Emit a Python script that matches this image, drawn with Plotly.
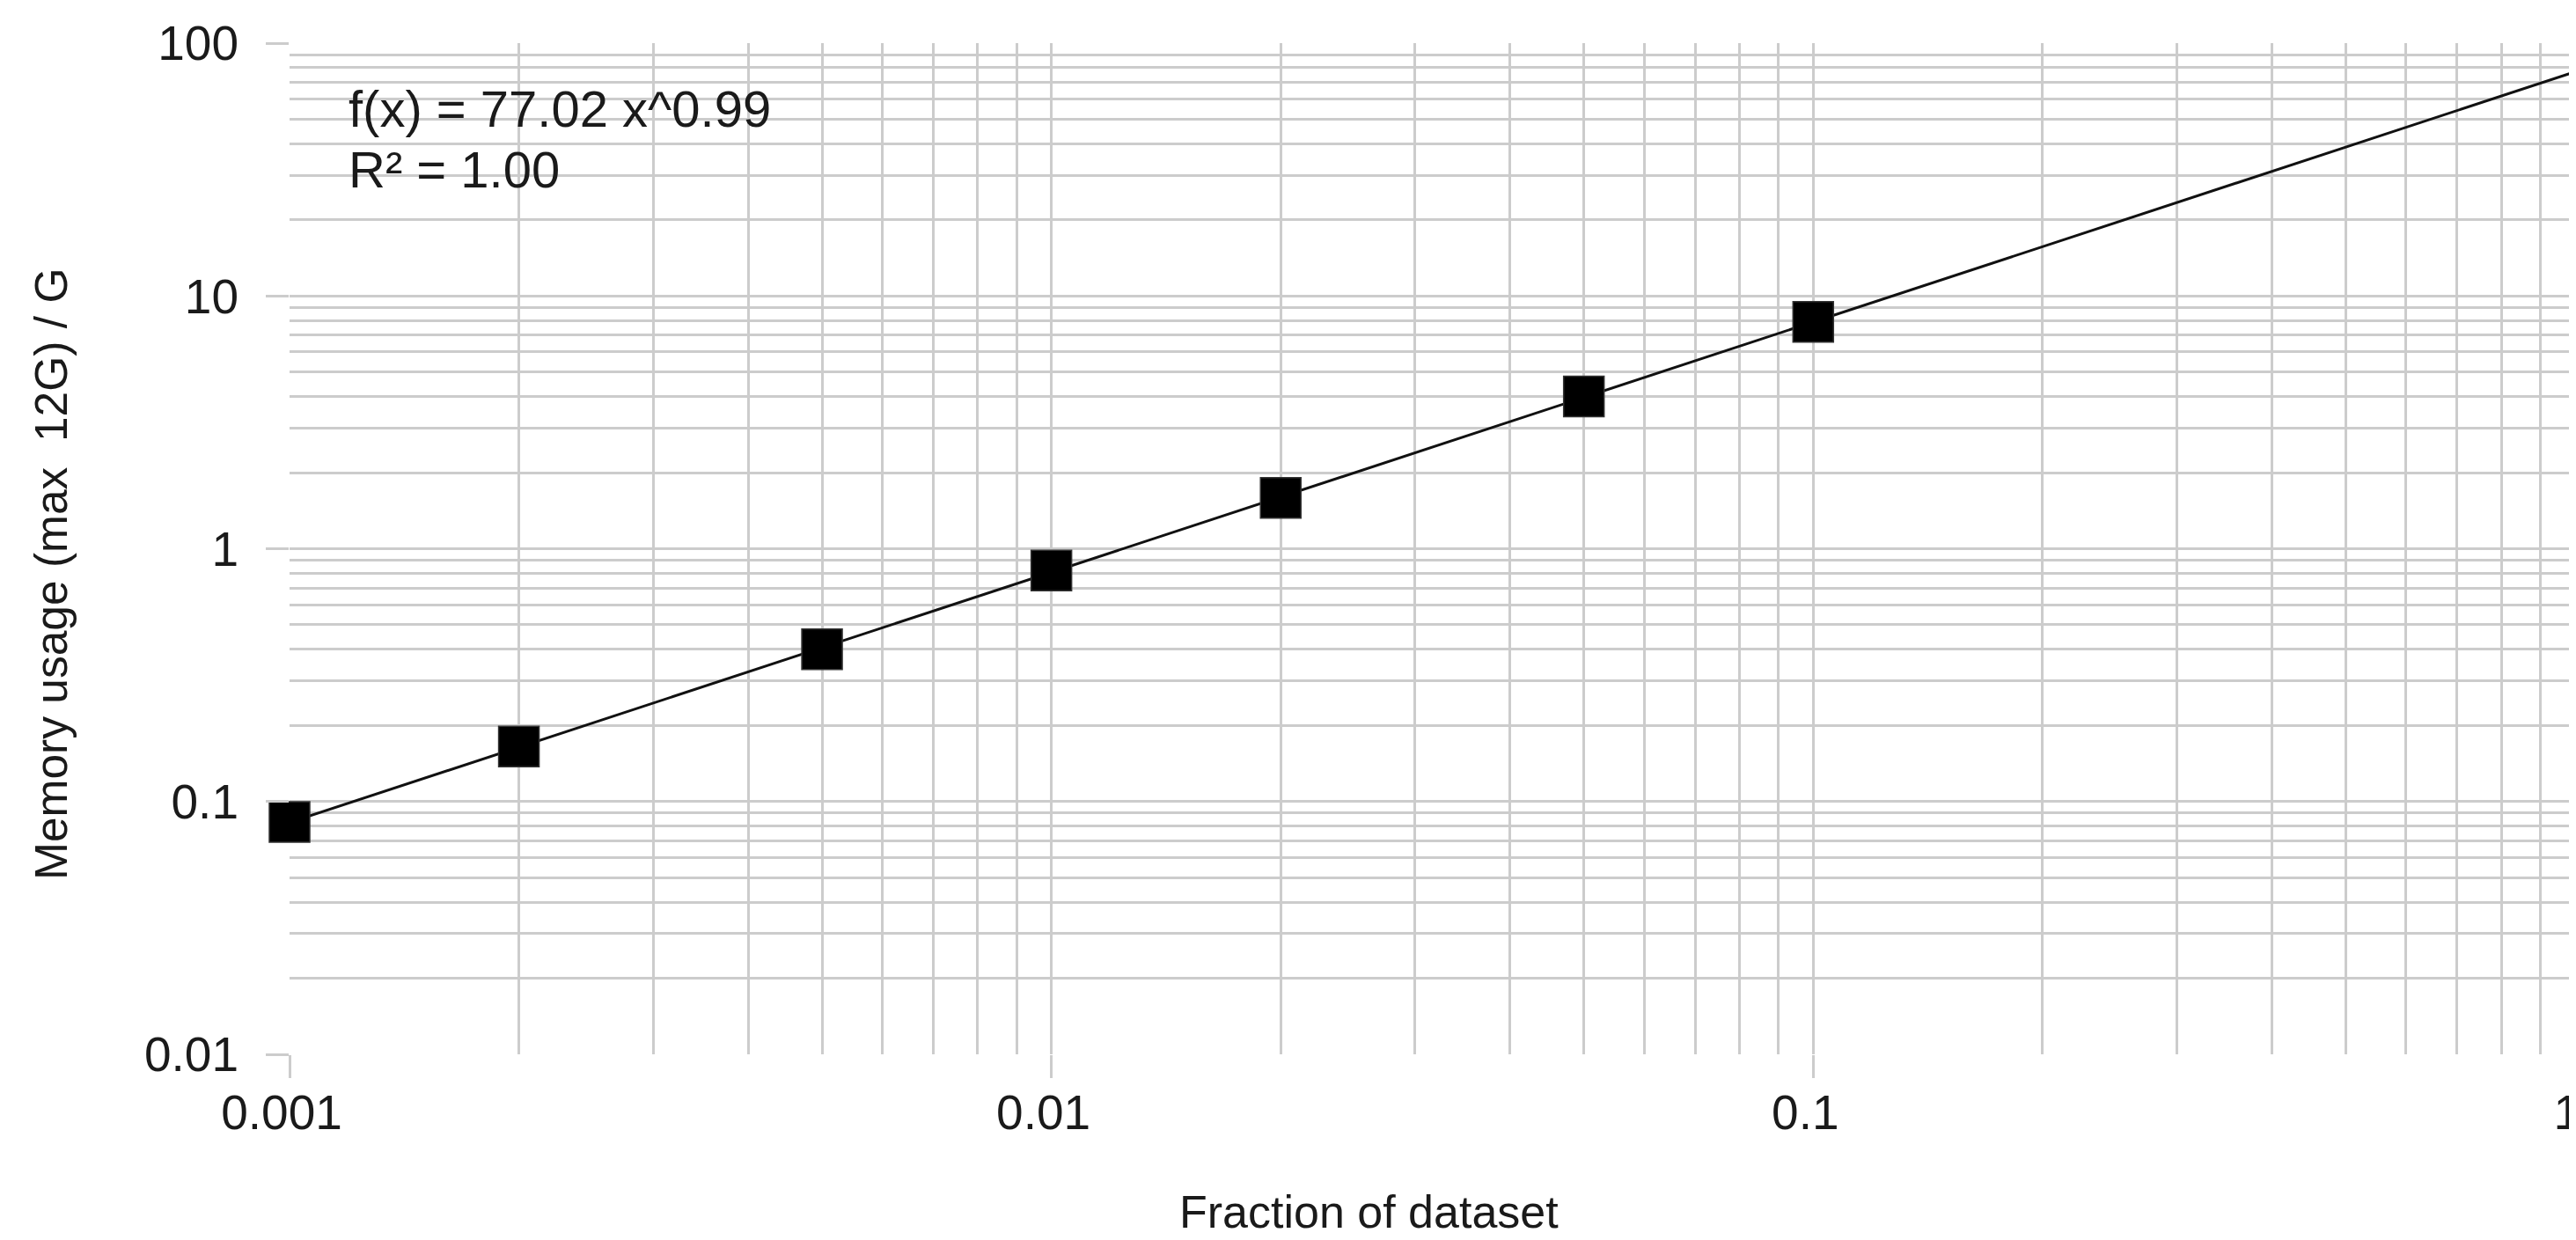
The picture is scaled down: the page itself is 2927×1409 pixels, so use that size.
import plotly.graph_objects as go

# ---- data ----
fraction = [0.001, 0.002, 0.005, 0.01, 0.02, 0.05, 0.1]
memory_g = [0.083, 0.165, 0.40, 0.82, 1.59, 4.0, 7.9]

# power-law trend line endpoints (f(x) = 77.02 x^0.99), straight on log-log axes
trend_x = [0.001, 1.0]
trend_y = [0.0826, 77.02]

x_major = [0.001, 0.01, 0.1, 1]
x_major_text = ["0.001", "0.01", "0.1", "1"]
y_major = [0.01, 0.1, 1, 10, 100]
y_major_text = ["0.01", "0.1", "1", "10", "100"]
x_minor = [m * d for d in [0.001, 0.01, 0.1] for m in range(2, 10)]
y_minor = [m * d for d in [0.01, 0.1, 1, 10] for m in range(2, 10)]

FONT = "Liberation Sans, Arial, sans-serif"
GRID = "#cccccc"

fig = go.Figure()
fig.add_trace(go.Scatter(
    x=trend_x, y=trend_y, mode="lines", cliponaxis=False,
    line=dict(color="#111111", width=3), showlegend=False, hoverinfo="skip"))
fig.add_trace(go.Scatter(
    x=fraction, y=memory_g, mode="markers", cliponaxis=False,
    marker=dict(symbol="square", size=46, color="#000000",
                line=dict(color="#333333", width=1.5)),
    showlegend=False))

W, H = 2927, 1409
L, R, T, B = 321, 9, 41, 219

axis_common = dict(
    type="log", showline=False, zeroline=False,
    gridcolor=GRID, gridwidth=2.5,
    ticks="outside", ticklen=26, tickcolor=GRID, tickwidth=2.5,
    tickfont=dict(family=FONT, size=55, color="#1a1a1a"),
    tickmode="array", ticklabeloverflow="allow",
)

fig.update_xaxes(
    **axis_common,
    range=[-3, 0.0001], tickvals=x_major, ticktext=x_major_text,
    ticklabelstandoff=-8, ticklabelshift=-9,
    minor=dict(tickmode="array", tickvals=x_minor, showgrid=True,
               gridcolor=GRID, gridwidth=2.5, ticks=""),
)
fig.update_yaxes(
    **axis_common,
    range=[-2, 2], tickvals=y_major, ticktext=y_major_text,
    ticklabelstandoff=20,
    minor=dict(tickmode="array", tickvals=y_minor, showgrid=True,
               gridcolor=GRID, gridwidth=2.5, ticks=""),
)

pw, ph = W - L - R, H - T - B


def px_x(p):
    return (p - L) / pw


def px_y(p):
    return (H - B - p) / ph


annotations = [
    dict(text="f(x) = 77.02 x^0.99", x=px_x(386), y=px_y(116),
         xanchor="left", yanchor="middle", size=58),
    dict(text="R² = 1.00", x=px_x(386), y=px_y(184),
         xanchor="left", yanchor="middle", size=58),
    dict(text="Fraction of dataset", x=px_x(1547), y=px_y(1369),
         xanchor="center", yanchor="middle", size=52),
    dict(text="Memory usage (max  12G) / G", x=px_x(50), y=px_y(645),
         xanchor="center", yanchor="middle", size=51.5, textangle=-90),
]
for a in annotations:
    fig.add_annotation(
        text=a["text"], x=a["x"], y=a["y"], xref="paper", yref="paper",
        xanchor=a["xanchor"], yanchor=a["yanchor"], showarrow=False,
        textangle=a.get("textangle", 0),
        font=dict(family=FONT, size=a["size"], color="#1a1a1a"))

fig.update_layout(
    width=W, height=H,
    margin=dict(l=L, r=R, t=T, b=B, autoexpand=False),
    plot_bgcolor="white", paper_bgcolor="white",
    showlegend=False,
)

fig.write_html("out.html")
